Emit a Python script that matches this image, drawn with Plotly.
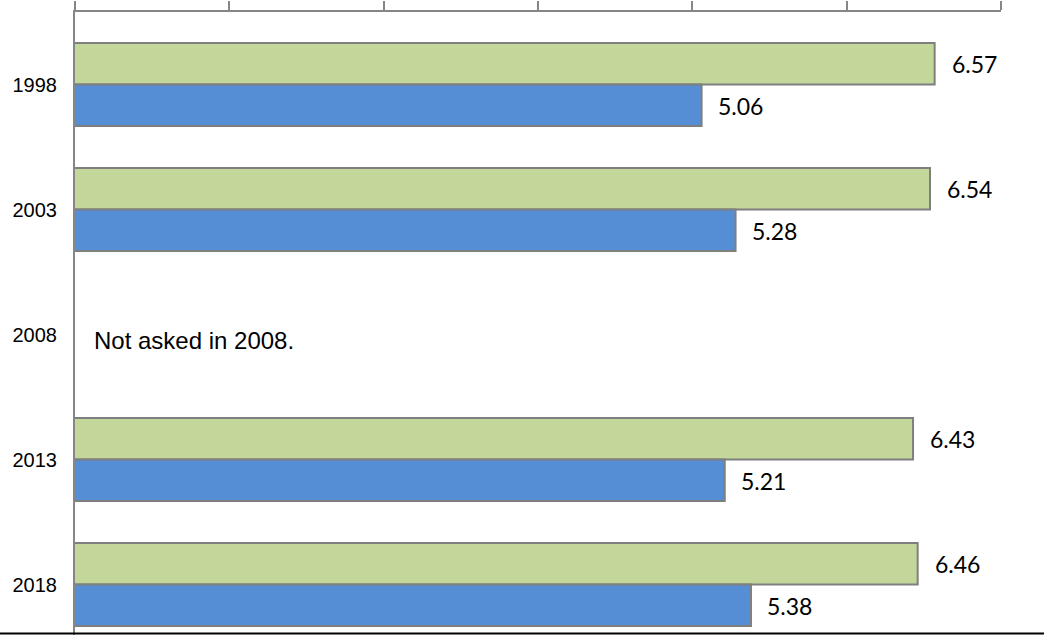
import plotly.graph_objects as go

years = ["1998", "2003", "2008", "2013", "2018"]
series_a = [6.57, 6.54, None, 6.43, 6.46]   # green (top bar)
series_b = [5.06, 5.28, None, 5.21, 5.38]   # blue (bottom bar)
note_text = "Not asked in 2008."
note_year = "2008"
x_ticks = [1, 2, 3, 4, 5, 6, 7]

green = "#C4D79B"
blue = "#558ED5"
outline = "#7F7F7F"
axis_grey = "#868686"

fig = go.Figure()
fig.add_trace(go.Bar(
    y=years, x=series_a, orientation="h",
    marker=dict(color=green, line=dict(color=outline, width=2)),
    showlegend=False, hoverinfo="skip",
))
fig.add_trace(go.Bar(
    y=years, x=series_b, orientation="h",
    marker=dict(color=blue, line=dict(color=outline, width=2)),
    showlegend=False, hoverinfo="skip",
))

label_font = dict(family="Lato, sans-serif", size=23, color="#000000")
annotations = []
for i, (a, b) in enumerate(zip(series_a, series_b)):
    if a is not None:
        annotations.append(dict(x=a, y=i, text="%.2f" % a, xref="x", yref="y",
                                xanchor="left", yanchor="middle", showarrow=False,
                                xshift=15, yshift=21, font=label_font))
    if b is not None:
        annotations.append(dict(x=b, y=i, text="%.2f" % b, xref="x", yref="y",
                                xanchor="left", yanchor="middle", showarrow=False,
                                xshift=14, yshift=-21, font=label_font))
annotations.append(dict(x=x_ticks[0], y=years.index(note_year), text=note_text, xref="x", yref="y",
                        xanchor="left", yanchor="middle", showarrow=False,
                        xshift=17, yshift=-6,
                        font=dict(family="Liberation Sans, Arial, sans-serif", size=24, color="#000000")))

fig.update_layout(
    width=1053, height=635,
    margin=dict(l=75, r=52, t=12, b=0),
    paper_bgcolor="white", plot_bgcolor="white",
    barmode="group", bargap=0.336, bargroupgap=0,
    annotations=annotations,
    shapes=[dict(type="line", xref="paper", yref="paper",
                 x0=-75 / 926, x1=(1044 - 75) / 926, y0=0.0025, y1=0.0025,
                 line=dict(color="#000000", width=2))],
)
fig.update_xaxes(
    side="top", range=[x_ticks[0], x_ticks[-1]], tickvals=x_ticks,
    showticklabels=False, ticks="outside", ticklen=9, tickwidth=2, tickcolor=axis_grey,
    showline=True, linecolor=axis_grey, linewidth=2, showgrid=False, zeroline=False,
)
fig.update_yaxes(
    type="category", categoryorder="array", categoryarray=years,
    range=[4.404, -0.58],
    showline=True, linecolor=axis_grey, linewidth=2, ticks="", showgrid=False,
    ticklabelstandoff=12,
    tickfont=dict(family="Liberation Sans, Arial, sans-serif", size=20, color="#000000"),
)

fig.write_html("out.html", config={"displayModeBar": False},
               post_script="document.body.style.margin='0px';")
